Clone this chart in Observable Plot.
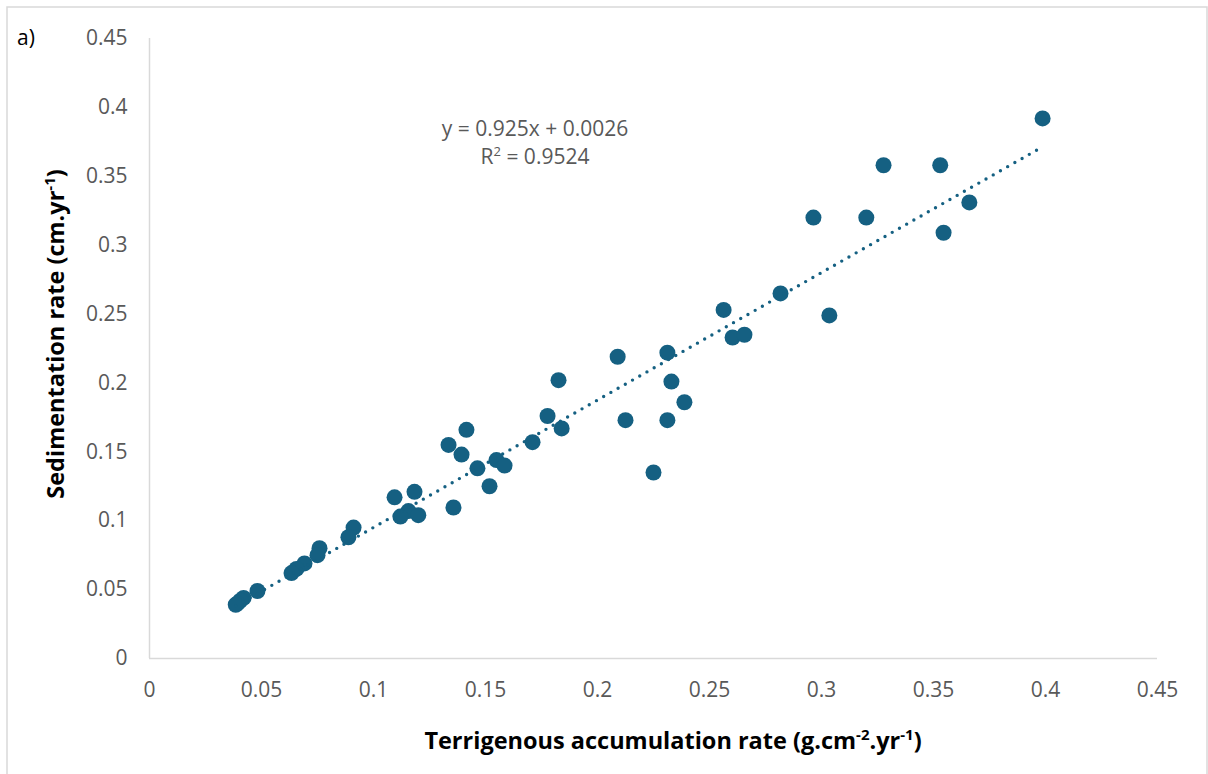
<!DOCTYPE html>
<html>
<head>
<meta charset="utf-8">
<script src="https://cdn.jsdelivr.net/npm/d3@7"></script>
<script src="https://cdn.jsdelivr.net/npm/@observablehq/plot@0.6"></script>
<style>
  html, body { margin: 0; padding: 0; background: #fff; }
  svg { display: block; }
</style>
</head>
<body>
<div id="chart"></div>
<script>
// Terrigenous accumulation rate (g.cm-2.yr-1)
const terrigenous = [
  0.3987, 0.3277, 0.3530, 0.2964, 0.3200, 0.3660, 0.3545, 0.2817, 0.3035, 0.2563,
  0.2603, 0.2656, 0.2090, 0.2312, 0.2330, 0.2388, 0.2125, 0.2312, 0.2250, 0.1826,
  0.1777, 0.1840, 0.1710, 0.1415, 0.1335, 0.1393, 0.1464, 0.1549, 0.1585, 0.1518,
  0.1357, 0.1094, 0.1183, 0.1156, 0.1120, 0.1200, 0.0911, 0.0888, 0.0759, 0.0750,
  0.0692, 0.0656, 0.0634, 0.0482, 0.0420, 0.0405, 0.0393, 0.0385
];
// Sedimentation rate (cm.yr-1)
const sedimentation = [
  0.392, 0.358, 0.358, 0.320, 0.320, 0.331, 0.309, 0.265, 0.249, 0.253,
  0.233, 0.235, 0.219, 0.222, 0.201, 0.186, 0.173, 0.173, 0.135, 0.202,
  0.176, 0.167, 0.157, 0.166, 0.155, 0.148, 0.138, 0.144, 0.140, 0.125,
  0.1096, 0.117, 0.121, 0.107, 0.103, 0.104, 0.095, 0.088, 0.080, 0.075,
  0.069, 0.065, 0.062, 0.049, 0.044, 0.042, 0.040, 0.039
];
// Linear trendline as labelled on the chart
const trendSlope = 0.925;
const trendIntercept = 0.0026;
const rSquared = "0.9524";
const xTicks = [0, 0.05, 0.1, 0.15, 0.2, 0.25, 0.3, 0.35, 0.4, 0.45];
const yTicks = [0, 0.05, 0.1, 0.15, 0.2, 0.25, 0.3, 0.35, 0.4, 0.45];
const panelLabel = "a)";

const points = terrigenous.map((x, i) => ({x, y: sedimentation[i]}));
const xExtent = d3.extent(terrigenous);
const trend = xExtent.map(x => ({x, y: trendSlope * x + trendIntercept}));

const fmt = d => String(+d.toFixed(2));
const color = "#156082";
const tickColor = "#595959";
const font = "'Open Sans', sans-serif";

const W = 1208, H = 774;
const svg = Plot.plot({
  width: W, height: H,
  marginLeft: 149, marginRight: 51, marginTop: 38, marginBottom: 116,
  style: {fontFamily: font, fontSize: "21px", color: tickColor, background: "#fff", overflow: "visible"},
  x: {domain: [0, 0.45]},
  y: {domain: [0, 0.45]},
  marks: [
    Plot.ruleY([0], {stroke: "#d9d9d9", strokeWidth: 1.5}),
    Plot.ruleX([0], {stroke: "#d9d9d9", strokeWidth: 1.5}),
    Plot.axisX({ticks: xTicks, tickFormat: fmt, tickSize: 0, tickPadding: 24, label: null, fill: tickColor}),
    Plot.axisY({ticks: yTicks, tickFormat: fmt, tickSize: 0, tickPadding: 22, label: null, fill: tickColor}),
    Plot.dot(points, {x: "x", y: "y", r: 8, fill: color}),
    Plot.line(trend, {x: "x", y: "y", stroke: color, strokeWidth: 3.4, strokeDasharray: "0,8.3", strokeLinecap: "round"})
  ]
});

const s = d3.select(svg);
// chart border
s.insert("rect", ":first-child")
  .attr("x", 7).attr("y", 7).attr("width", 1200).attr("height", 800)
  .attr("fill", "#fff").attr("stroke", "#d9d9d9").attr("stroke-width", 1.5);

// panel label
s.append("text").attr("x", 26).attr("y", 45)
  .attr("font-family", font).attr("font-size", 21).attr("fill", "#000")
  .text(panelLabel);

// equation
const eq = s.append("g").attr("font-family", font).attr("font-size", 21)
  .attr("fill", tickColor).attr("text-anchor", "middle");
eq.append("text").attr("x", 535).attr("y", 136)
  .text(`y = ${trendSlope}x + ${trendIntercept}`);
const r2 = eq.append("text").attr("x", 535).attr("y", 164);
r2.append("tspan").text("R");
r2.append("tspan").attr("dy", -8).attr("font-size", 13).text("2");
r2.append("tspan").attr("dy", 8).text(" = " + rSquared);

// axis titles
const xt = s.append("text").attr("x", 673).attr("y", 749)
  .attr("text-anchor", "middle").attr("font-family", font)
  .attr("font-size", 23.5).attr("font-weight", "bold").attr("fill", "#000");
xt.append("tspan").text("Terrigenous accumulation rate (g.cm");
xt.append("tspan").attr("dy", -9).attr("font-size", 15).text("-2");
xt.append("tspan").attr("dy", 9).text(".yr");
xt.append("tspan").attr("dy", -9).attr("font-size", 15).text("-1");
xt.append("tspan").attr("dy", 9).text(")");

const yt = s.append("text").attr("transform", "translate(64,334) rotate(-90)")
  .attr("text-anchor", "middle").attr("font-family", font)
  .attr("font-size", 23.5).attr("font-weight", "bold").attr("fill", "#000");
yt.append("tspan").text("Sedimentation rate (cm.yr");
yt.append("tspan").attr("dy", -9).attr("font-size", 15).text("-1");
yt.append("tspan").attr("dy", 9).text(")");

document.getElementById("chart").appendChild(svg);
</script>
</body>
</html>
